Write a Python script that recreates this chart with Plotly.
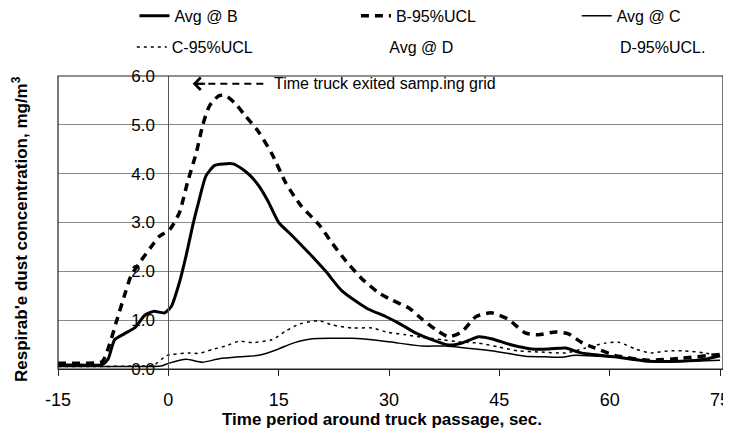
import plotly.graph_objects as go

# time (s) and concentration (mg/m3)
avg_b_t = [-15, -12, -9, -8.2, -7.3, -6, -4.5, -3.2, -2, -0.5, 0.4, 1.5, 2.4, 3.3, 4.2, 5.1,
           6.3, 7.5, 8.8, 10, 11.2, 12.3, 13.5, 15, 16.5, 18, 19.6, 21.4, 23.6, 26.9, 29.6,
           31.3, 33.6, 35.8, 38.1, 39.9, 42.2, 43.9, 46.7, 49.4, 51.7, 54, 56.1, 60.7, 65.2,
           69.7, 73, 75]
avg_b = [0.08, 0.08, 0.09, 0.2, 0.6, 0.72, 0.85, 1.1, 1.18, 1.15, 1.28, 1.77, 2.31, 2.93, 3.47,
         3.95, 4.17, 4.2, 4.2, 4.1, 3.95, 3.75, 3.45, 3.0, 2.78, 2.55, 2.3, 2.0, 1.6, 1.25, 1.07,
         0.94, 0.74, 0.6, 0.49, 0.53, 0.66, 0.62, 0.49, 0.41, 0.41, 0.43, 0.33, 0.25, 0.16,
         0.16, 0.2, 0.27]

ucl_b_t = [-15, -12, -9, -8, -7.1, -6, -5.1, -3.9, -1.9, -1.2, 0.2, 1.5, 2.6, 3.8, 4.7, 5.6,
           6.9, 7.8, 9, 10.5, 12.3, 14.1, 16, 18, 20.5, 22.3, 24.2, 26.3, 28.6, 30.4, 32.7,
           34.5, 36.4, 38.1, 39.9, 41.8, 43.9, 46.2, 48.5, 50.3, 52.6, 54.4, 56.1, 58, 60.7,
           65.2, 69.7, 75]
ucl_b = [0.12, 0.12, 0.15, 0.5, 0.95, 1.49, 1.9, 2.18, 2.59, 2.72, 2.86, 3.2, 3.82, 4.43, 5.01,
         5.39, 5.6, 5.6, 5.45, 5.18, 4.85, 4.4, 3.8, 3.35, 2.95, 2.57, 2.2, 1.85, 1.56, 1.41,
         1.25, 1.02, 0.8, 0.66, 0.76, 1.07, 1.15, 1.02, 0.74, 0.7, 0.76, 0.72, 0.55, 0.43, 0.28,
         0.18, 0.22, 0.3]

avg_c_t = [-15, -10, -5, -1, 0.1, 2.4, 4.6, 6.9, 9.6, 12.3, 15, 16.4, 17.8, 19.6, 22.3, 25,
           27.7, 31.3, 34.5, 37.7, 40.4, 43.1, 45.8, 48.5, 51.2, 53.5, 55.3, 58.4, 62.9, 65.2,
           69.7, 75]
avg_c = [0.05, 0.05, 0.05, 0.06, 0.12, 0.2, 0.14, 0.21, 0.25, 0.28, 0.41, 0.5, 0.57, 0.62, 0.63,
         0.63, 0.6, 0.53, 0.47, 0.47, 0.43, 0.39, 0.33, 0.26, 0.25, 0.24, 0.28, 0.26, 0.22, 0.16,
         0.16, 0.18]

ucl_c_t = [-15, -10, -5, -2, -0.3, 0.6, 2.8, 4.2, 6, 7.8, 9.6, 11.4, 14.1, 16, 17.8, 20.5, 22.3,
           25, 27.7, 29.6, 32.3, 34.5, 37.2, 39.9, 42.2, 44.9, 47.6, 50.3, 54, 56.7, 59.4, 61.2,
           63.5, 65.6, 67.9, 70.2, 72.9, 75]
ucl_c = [0.05, 0.05, 0.06, 0.08, 0.27, 0.3, 0.33, 0.32, 0.4, 0.47, 0.57, 0.54, 0.6, 0.78, 0.92,
         0.99, 0.9, 0.84, 0.84, 0.76, 0.7, 0.65, 0.6, 0.55, 0.53, 0.45, 0.37, 0.35, 0.33, 0.43,
         0.53, 0.55, 0.41, 0.33, 0.37, 0.37, 0.33, 0.26]

# the D series show only in the legend, no readable values
avg_d_t, avg_d = [0], [None]
ucl_d_t, ucl_d = [0], [None]

x_ticks = [-15, 0, 15, 30, 45, 60, 75]
x_labels = ["-15", "0", "15", "30", "45", "60", "75"]
y_ticks = [0, 1, 2, 3, 4, 5, 6]
x_range = [-15, 75.4]
exit_t = 3.3
exit_y = 5.84

FONT = "Liberation Sans, Arial, sans-serif"

fig = go.Figure()

fig.add_trace(go.Scatter(x=avg_b_t, y=avg_b, mode="lines", name="Avg @ B", legend="legend",
                         line=dict(color="black", width=3, shape="spline", smoothing=0.6)))
fig.add_trace(go.Scatter(x=ucl_b_t, y=ucl_b, mode="lines", name="B-95%UCL", legend="legend2",
                         line=dict(color="black", width=3.5, dash="8px,6px", shape="spline", smoothing=0.6)))
fig.add_trace(go.Scatter(x=avg_c_t, y=avg_c, mode="lines", name="Avg @ C", legend="legend3",
                         line=dict(color="black", width=1.5, shape="spline", smoothing=0.6)))
fig.add_trace(go.Scatter(x=ucl_c_t, y=ucl_c, mode="lines", name="C-95%UCL", legend="legend4",
                         line=dict(color="black", width=1.5, dash="3px,4px", shape="spline", smoothing=0.6)))
fig.add_trace(go.Scatter(x=avg_d_t, y=avg_d, mode="lines", name="Avg @ D", legend="legend5",
                         line=dict(color="rgba(0,0,0,0)", width=1)))
fig.add_trace(go.Scatter(x=ucl_d_t, y=ucl_d, mode="lines", name="D-95%UCL.", legend="legend6",
                         line=dict(color="rgba(0,0,0,0)", width=1)))

# dashed arrow pointing at the exit time
fig.add_shape(type="line", x0=exit_t + 0.5, x1=13.3, y0=exit_y, y1=exit_y,
              line=dict(color="black", width=2, dash="7px,5px"))
fig.add_annotation(x=exit_t, y=exit_y, ax=14, ay=0, text="", showarrow=True,
                   arrowhead=4, arrowsize=1.2, arrowwidth=2, arrowcolor="black")
fig.add_annotation(x=14.1, y=exit_y, text="Time truck exited samp.ing grid", showarrow=False,
                   xanchor="left", yanchor="middle", font=dict(size=16, color="black"))

# axis titles
fig.add_annotation(xref="paper", yref="paper", x=0.487, y=-0.174, xanchor="center", yanchor="middle",
                   text="<b>Time period around truck passage, sec.</b>", showarrow=False,
                   font=dict(size=17, color="black"))
fig.add_annotation(xref="paper", yref="paper", x=-0.057, y=0.478, xanchor="center", yanchor="middle",
                   textangle=-90, showarrow=False,
                   text="<b>Respirab'e dust concentration, mg/m<sup>3</sup></b>",
                   font=dict(size=17, color="black"))

# plot frame
fig.add_shape(type="rect", xref="paper", yref="paper", x0=0, x1=1, y0=0, y1=1,
              line=dict(color="#222", width=1.2), layer="above")


def legend_at(x, y):
    return dict(orientation="h", xanchor="left", yanchor="middle", x=x, y=y,
                bgcolor="rgba(0,0,0,0)", font=dict(size=16, color="black"), itemclick=False)


# page body has an 8px margin, so the figure is 8px smaller than the window
fig.update_layout(
    width=723, height=426,
    margin=dict(l=50, r=8, t=68, b=65, autoexpand=False),
    paper_bgcolor="white", plot_bgcolor="white",
    font=dict(family=FONT, color="black"),
    showlegend=True,
    legend=legend_at(0.115, 1.205),
    legend2=legend_at(0.448, 1.205),
    legend3=legend_at(0.780, 1.205),
    legend4=legend_at(0.111, 1.099),
    legend5=legend_at(0.438, 1.099),
    legend6=legend_at(0.785, 1.099),
    xaxis=dict(range=x_range, tickvals=x_ticks, ticktext=x_labels, ticks="outside", ticklen=6,
               tickcolor="#222", showline=True, linecolor="#222", showgrid=False, zeroline=False,
               automargin=False, tickfont=dict(size=18), ticklabelstandoff=8,
               ticklabeloverflow="allow"),
    yaxis=dict(range=[0, 6], tickvals=y_ticks, tickformat=".1f", anchor="free",
               position=(0 - x_range[0]) / (x_range[1] - x_range[0]), automargin=False,
               showline=True, linecolor="#555", linewidth=1, showgrid=True,
               gridcolor="#8a8a8a", gridwidth=1, zeroline=False, ticks="",
               tickfont=dict(size=17), ticklabelstandoff=10),
)

fig.write_html("out.html")
